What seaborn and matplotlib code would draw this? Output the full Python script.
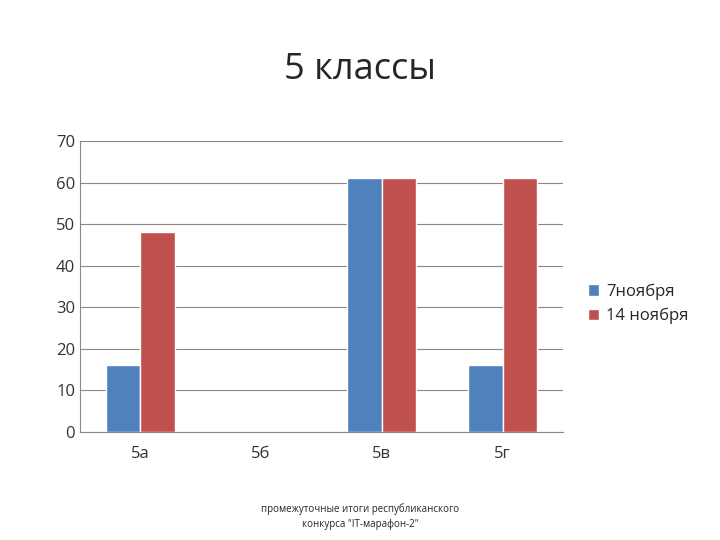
import pandas as pd
import seaborn as sns
import matplotlib.pyplot as plt

classes = ['5а', '5б', '5в', '5г']
nov7 = [16, 0, 61, 16]
nov14 = [48, 0, 61, 61]
series = ['7ноября', '14 ноября']

df = pd.DataFrame({
    'Класс': classes * 2,
    'Значение': nov7 + nov14,
    'Дата': [series[0]] * 4 + [series[1]] * 4,
})

sns.set_style('white')
plt.rcParams['font.family'] = ['Open Sans', 'DejaVu Sans']

fig = plt.figure(figsize=(7.2, 5.4), dpi=100)
ax = fig.add_axes([0.111, 0.2, 0.671, 0.539])
sns.barplot(data=df, x='Класс', y='Значение', hue='Дата', ax=ax,
            palette=['#4F81BD', '#C0504D'], width=0.57, saturation=1, legend=True)

ax.set_ylim(0, 70)
ax.set_yticks(range(0, 71, 10))
ax.set_xlim(-0.5, 3.5)
ax.yaxis.grid(True, color='#888888', linewidth=0.8)
ax.set_axisbelow(True)
ax.set_xlabel('')
ax.set_ylabel('')
ax.tick_params(axis='both', labelsize=12, colors='#333333', length=0)
ax.tick_params(axis='x', pad=10)
# category divider ticks
ax.set_xticks([-0.5, 0.5, 1.5, 2.5, 3.5], minor=True)
ax.tick_params(axis='x', which='minor', length=5, color='#888888')
for s in ['top', 'right']:
    ax.spines[s].set_visible(False)
for s in ['left', 'bottom']:
    ax.spines[s].set_color('#888888')

ax.legend(loc='center left', bbox_to_anchor=(1.02, 0.44), frameon=False,
          fontsize=12, handlelength=0.7, handleheight=0.7, handletextpad=0.4)

fig.text(0.5, 0.87, '5 классы', ha='center', va='center', fontsize=26)
fig.text(0.5, 0.043, 'промежуточные итоги республиканского\nконкурса "IT-марафон-2"',
         ha='center', va='center', fontsize=7, linespacing=1.5)

fig.savefig('out.png', dpi=100)
